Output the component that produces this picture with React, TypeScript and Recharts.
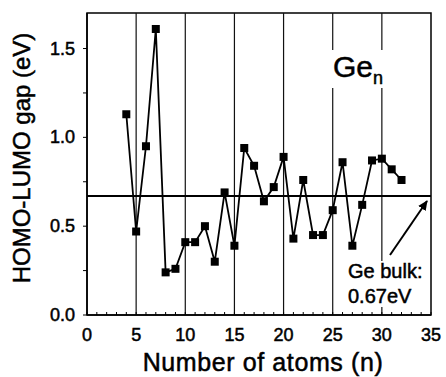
import React from 'react';
import { LineChart, Line, XAxis, YAxis, ReferenceLine, ReferenceArea } from 'recharts';

// HOMO-LUMO gap of Ge_n clusters
const atoms = [4, 5, 6, 7, 8, 9, 10, 11, 12, 13, 14, 15, 16, 17, 18, 19, 20, 21, 22, 23, 24, 25, 26, 27, 28, 29, 30, 31, 32];
const gaps = [1.13, 0.47, 0.95, 1.61, 0.24, 0.26, 0.41, 0.41, 0.5, 0.3, 0.69, 0.39, 0.94, 0.84, 0.64, 0.72, 0.89, 0.43, 0.76, 0.45, 0.45, 0.59, 0.86, 0.39, 0.62, 0.87, 0.88, 0.82, 0.76];
const xTicks = [0, 1, 2, 3, 4, 5, 6, 7, 8, 9, 10, 11, 12, 13, 14, 15, 16, 17, 18, 19, 20, 21, 22, 23, 24, 25, 26, 27, 28, 29, 30, 31, 32, 33, 34, 35];
const yTicks = [0, 0.25, 0.5, 0.75, 1, 1.25, 1.5];
const gridX = [5, 10, 15, 20, 25, 30];
const bulkGap = 0.67;

const data = atoms.map((n, i) => ({ n, gap: gaps[i] }));

const FONT = '"Liberation Sans", Arial, Helvetica, sans-serif';
// the scanned figure has slightly heavy type
const ink = { fill: '#000', stroke: '#000', strokeWidth: 0.5 };

const SquareDot = (props: any) => {
  const { cx, cy } = props;
  if (cx == null || cy == null) return null;
  return <rect x={cx - 4} y={cy - 4} width={8} height={8} fill="#000" />;
};

const XTick = (props: any) => {
  const { x, y, payload } = props;
  return (
    <g>
      <line x1={x} x2={x} y1={y} y2={y - 3} stroke="#000" strokeWidth={1} />
      {payload.value % 5 === 0 && (
        <text x={x} y={y + 26} textAnchor="middle" fontSize={18} fontFamily={FONT} {...ink}>
          {payload.value}
        </text>
      )}
    </g>
  );
};

const YTick = (props: any) => {
  const { x, y, payload } = props;
  const v = payload.value as number;
  if (Math.abs(v * 2 - Math.round(v * 2)) > 1e-6) return null;
  return (
    <text x={x} y={y} dy={6} textAnchor="end" fontSize={18} fontFamily={FONT} {...ink}>
      {v.toFixed(1)}
    </text>
  );
};

export default function App() {
  return (
    <div style={{ position: 'absolute', left: 0, top: 0, width: 446, height: 377, background: '#fff' }}>
      <LineChart width={446} height={377} data={data} margin={{ top: 13, right: 15, bottom: 0, left: 0 }}>
        <XAxis
          type="number"
          dataKey="n"
          domain={[0, 35]}
          ticks={xTicks}
          interval={0}
          height={62}
          tickSize={0}
          tickMargin={0}
          tick={<XTick />}
          axisLine={{ stroke: '#000', strokeWidth: 1.5 }}
          tickLine={false}
        />
        <YAxis
          type="number"
          domain={[0, 1.7]}
          ticks={yTicks}
          interval={0}
          width={87}
          tickSize={4}
          tickMargin={8}
          tick={<YTick />}
          axisLine={{ stroke: '#000', strokeWidth: 1.5 }}
          tickLine={{ stroke: '#000', strokeWidth: 1 }}
        />
        <ReferenceArea x1={0} x2={35} y1={0} y2={1.7} fill="none" stroke="#000" strokeWidth={1.5} ifOverflow="extendDomain" />
        {gridX.map((gx) => (
          <ReferenceLine key={gx} x={gx} stroke="#111" strokeWidth={1.2} />
        ))}
        <ReferenceLine y={bulkGap} stroke="#000" strokeWidth={2} />
        <Line
          dataKey="gap"
          stroke="#000"
          strokeWidth={1.8}
          dot={<SquareDot />}
          activeDot={false}
          isAnimationActive={false}
        />
      </LineChart>
      <svg width={446} height={377} style={{ position: 'absolute', left: 0, top: 0, pointerEvents: 'none' }}>
        <defs>
          <marker id="arrowHead" markerWidth="12" markerHeight="12" refX="9" refY="5" orient="auto" markerUnits="userSpaceOnUse">
            <path d="M0,0.5 L10,5 L0,9.5 Z" fill="#000" />
          </marker>
        </defs>
        <text x={21} y={158} transform="rotate(-90 21 158)" textAnchor="middle" dominantBaseline="central" fontSize={24} fontFamily={FONT} {...ink}>
          HOMO-LUMO gap (eV)
        </text>
        <text x={263} y={371} textAnchor="middle" fontSize={25} letterSpacing={0.6} fontFamily={FONT} {...ink}>
          Number of atoms (n)
        </text>
        <rect x={331} y={50} width={55} height={38} fill="#fff" />
        <text x={333} y={77} fontSize={30} fontFamily={FONT} {...ink}>
          Ge<tspan fontSize={18} dy={7}>n</tspan>
        </text>
        <line x1={390} y1={255} x2={427} y2={201} stroke="#000" strokeWidth={2} markerEnd="url(#arrowHead)" />
        <rect x={346} y={261} width={82} height={46} fill="#fff" />
        <text x={348} y={278} fontSize={20} fontFamily={FONT} {...ink}>Ge bulk:</text>
        <text x={348} y={303} fontSize={20} fontFamily={FONT} {...ink}>0.67eV</text>
      </svg>
    </div>
  );
}
